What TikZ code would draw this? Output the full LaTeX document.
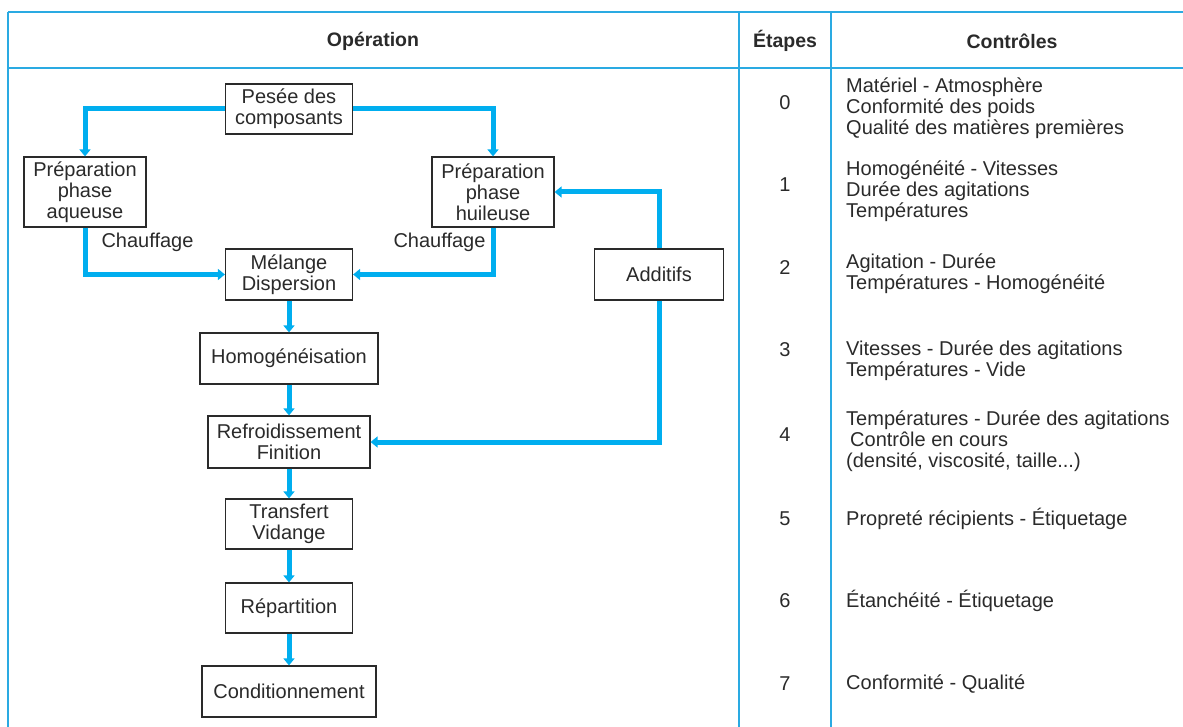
\documentclass[tikz,border=0pt]{standalone}
\usepackage{fontspec}
\setmainfont{Liberation Sans}
\usetikzlibrary{arrows.meta}
\definecolor{flow}{HTML}{00AEEF}
\definecolor{grid}{HTML}{2AAAE2}
\definecolor{ink}{HTML}{2A2A2A}
\tikzset{
  box/.style={draw=ink, line width=1.2pt, fill=white, text=ink, align=center, inner sep=0pt},
  arr/.style={draw=flow, line width=5pt, -{Triangle[width=11pt,length=7pt]}},
  gridline/.style={draw=grid, line width=1.5pt},
  txt/.style={text=ink, inner sep=0pt},
  head/.style={text=ink, inner sep=0pt, font=\bfseries\fontsize{19.5}{20.5}\selectfont},
}
\begin{document}
\begin{tikzpicture}[x=1pt,y=-1pt, every node/.style={font=\fontsize{20}{20.8}\selectfont}]
\useasboundingbox (0,0) rectangle (1183,727);
% table
\draw[gridline] (8,12) -- (1183,12);
\draw[gridline] (8,68) -- (1183,68);
\draw[gridline] (8,12) -- (8,727);
\draw[gridline] (739,12) -- (739,727);
\draw[gridline] (831,12) -- (831,727);
\node[head] (h1) at (373,41) {Opération};
\node[head] (h2) at (785,41) {Étapes};
\node[head] (h3) at (1012,41) {Contrôles};
% flow boxes
\node[box, minimum width=127pt, minimum height=50pt] (pesee) at (289,109) {Pesée des\\composants};
\node[box, minimum width=122pt, minimum height=70pt] (aq) at (85,192) {Préparation\\phase\\aqueuse};
\node[box, minimum width=122pt, minimum height=70pt] (hu) at (493,192) {Préparation\\phase\\huileuse};
\node[box, minimum width=127pt, minimum height=51pt] (mel) at (289,274.5) {Mélange\\Dispersion};
\node[box, minimum width=129pt, minimum height=51pt] (add) at (659,274.5) {Additifs};
\node[box, minimum width=178pt, minimum height=51pt] (hom) at (289,358.5) {Homogénéisation};
\node[box, minimum width=162pt, minimum height=52pt] (ref) at (289,442) {Refroidissement\\Finition};
\node[box, minimum width=127pt, minimum height=50pt] (tra) at (289,524) {Transfert\\Vidange};
\node[box, minimum width=127pt, minimum height=50pt] (rep) at (289,608) {Répartition};
\node[box, minimum width=174pt, minimum height=51pt] (cond) at (289,691.5) {Conditionnement};
\node[txt] (ch1) at (147.5,242) {Chauffage};
\node[txt] (ch2) at (439.5,242) {Chauffage};
% connectors
\draw[arr] (pesee.west) -| (aq.north);
\draw[arr] (pesee.east) -| (hu.north);
\draw[arr] (aq.south) |- (mel.west);
\draw[arr] (hu.south) |- (mel.east);
\draw[arr] (add.north) |- (hu.east);
\draw[arr] (add.south) |- (ref.east);
\draw[arr] (mel.south) -- (hom.north);
\draw[arr] (hom.south) -- (ref.north);
\draw[arr] (ref.south) -- (tra.north);
\draw[arr] (tra.south) -- (rep.north);
\draw[arr] (rep.south) -- (cond.north);
% steps
\node[txt] (e0) at (785,103) {0};
\node[txt] (e1) at (785,185) {1};
\node[txt] (e2) at (785,268) {2};
\node[txt] (e3) at (785,350) {3};
\node[txt] (e4) at (785,435) {4};
\node[txt] (e5) at (785,519) {5};
\node[txt] (e6) at (785,601) {6};
\node[txt] (e7) at (785,684) {7};
% controls
\node[txt, anchor=west, align=left] (c0) at (846,108) {Matériel - Atmosphère\\Conformité des poids\\Qualité des matières premières};
\node[txt, anchor=west, align=left] (c1) at (846,191) {Homogénéité - Vitesses\\Durée des agitations\\Températures};
\node[txt, anchor=west, align=left] (c2) at (846,274) {Agitation - Durée\\Températures - Homogénéité};
\node[txt, anchor=west, align=left] (c3) at (846,361) {Vitesses - Durée des agitations\\Températures - Vide};
\node[txt, anchor=west, align=left] (c4) at (846,441) {Températures - Durée des agitations\\\hspace{4pt}Contrôle en cours\\(densité, viscosité, taille...)};
\node[txt, anchor=west] (c5) at (846,519) {Propreté récipients - Étiquetage};
\node[txt, anchor=west] (c6) at (846,601) {Étanchéité - Étiquetage};
\node[txt, anchor=west] (c7) at (846,684) {Conformité - Qualité};
\end{tikzpicture}
\end{document}
